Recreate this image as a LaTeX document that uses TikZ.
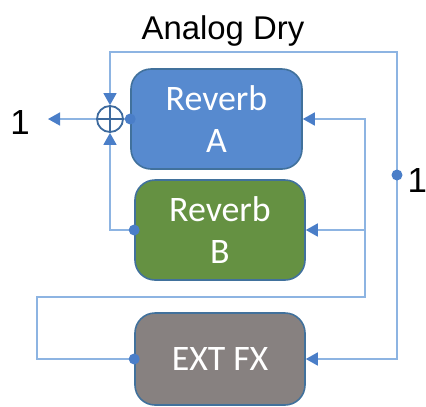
\documentclass[tikz,border=0pt]{standalone}
\usepackage{fontspec}
\setmainfont{Liberation Sans}
\newfontfamily\boxfont{Carlito}
\usepackage{tikz}
\usetikzlibrary{arrows.meta,positioning,calc}
\definecolor{wireblue}{HTML}{8DB4E2}
\definecolor{tipblue}{HTML}{4A7EC8}
\definecolor{edgeblue}{HTML}{41719C}
\definecolor{sumblue}{HTML}{3D6A9E}
\definecolor{revAfill}{HTML}{578ACF}
\definecolor{revBfill}{HTML}{659142}
\definecolor{fxfill}{HTML}{878180}

\begin{document}
\begin{tikzpicture}[x=1bp,y=-1bp,
  block/.style={draw=edgeblue,line width=1.6bp,rounded corners=20bp,
    text=white,align=center,inner sep=0pt,
    font=\boxfont\fontsize{36}{42}\selectfont},
  wire/.style={draw=wireblue,line width=1.6bp},
  tip/.style={-{Triangle[length=12bp,width=13bp,color=tipblue]}},
  dot/.style={circle,fill=tipblue,inner sep=0pt,minimum size=11bp},
  lbl/.style={font=\fontsize{33}{38}\selectfont},
  summer/.style={circle,draw=sumblue,line width=1.8bp,minimum size=26bp,inner sep=0pt,
    path picture={\draw[sumblue,line width=1.6bp]
      (path picture bounding box.north) -- (path picture bounding box.south)
      (path picture bounding box.west) -- (path picture bounding box.east);}}
]
\useasboundingbox (0,0) rectangle (426,407);

%--- blocks ---
\node[block,fill=revAfill,minimum width=171bp,minimum height=100bp] (revA) at (216.5,119) {Reverb\\A};
\node[block,fill=revBfill,minimum width=170bp,minimum height=100bp] (revB) at (220,230) {Reverb\\B};
\node[block,fill=fxfill,minimum width=170bp,minimum height=92bp] (extfx) at (220,359) {EXT FX};

%--- summing point and labels ---
\node[summer] (sum) at (110,119) {};
\node[lbl,anchor=base] (drylbl) at (223,39) {Analog Dry};
\coordinate (out) at (48,119);
\node[lbl,anchor=base,font=\fontsize{35}{40}\selectfont] (outlbl) at (20,134) {1};
\coordinate (dryin) at (397,175);
\node[lbl,anchor=base west,font=\fontsize{35}{40}\selectfont] (inlbl) at (404,192) {1};

%--- corner points ---
\coordinate (drytop) at (397,52);
\coordinate (drybot) at (397,359);
\coordinate (fxl) at (37,359);
\coordinate (fxt) at (37,297);
\coordinate (fxr) at (365,297);
\coordinate (busA) at (365,119);
\coordinate (busB) at (365,230);

%--- dry path ---
\draw[wire,tip] (dryin) -- (drytop) -| (sum.north);
\draw[wire,tip] (dryin) -- (drybot) -- (extfx.east);

%--- reverb outputs to sum ---
\draw[wire] (revA.west) -- (sum.east);
\draw[wire,tip] (revB.west) -| (sum.south);
\draw[wire,tip] (sum.west) -- (out);

%--- ext fx return feeding the reverbs ---
\draw[wire] (extfx.west) -- (fxl) -- (fxt) -- (fxr) -- (busB);
\draw[wire,tip] (busB) -- (busA) -- (revA.east);
\draw[wire,tip] (busB) -- (revB.east);

%--- dots ---
\node[dot] (dA) at (revA.west) {};
\node[dot] (dB) at (revB.west) {};
\node[dot] (dF) at (extfx.west) {};
\node[dot] (dD) at (dryin) {};
\end{tikzpicture}
\end{document}
